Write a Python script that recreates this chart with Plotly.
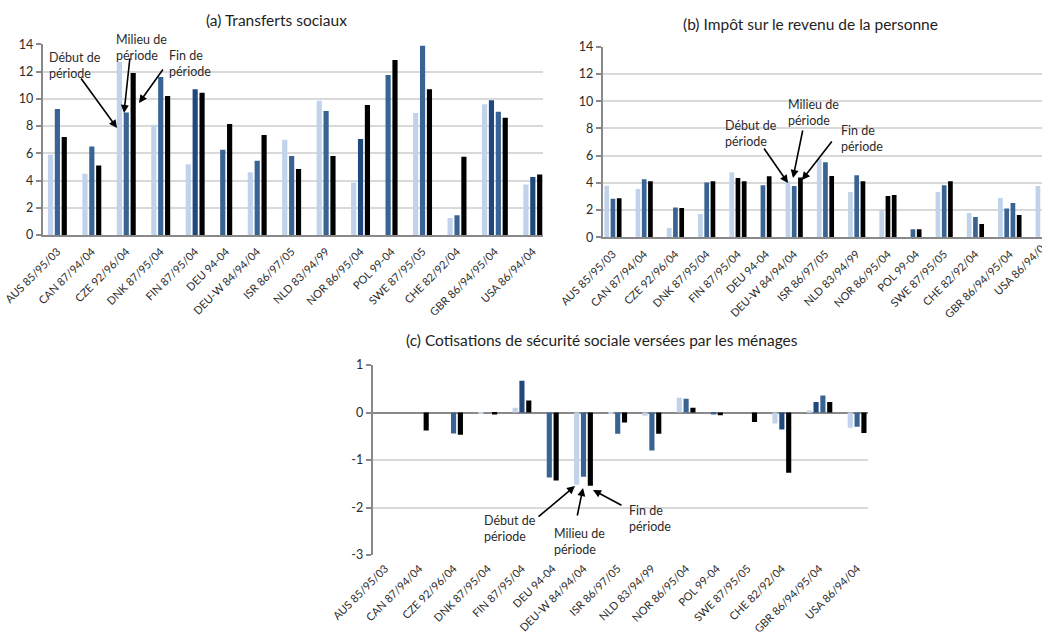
import plotly.graph_objects as go

# Pays et périodes (début / milieu / fin)
pays = ["AUS 85/95/03", "CAN 87/94/04", "CZE 92/96/04", "DNK 87/95/04", "FIN 87/95/04",
        "DEU 94-04", "DEU-W 84/94/04", "ISR 86/97/05", "NLD 83/94/99", "NOR 86/95/04",
        "POL 99-04", "SWE 87/95/05", "CHE 82/92/04", "GBR 86/94/95/04", "USA 86/94/04"]

# (a) Transferts sociaux
transf_debut = [5.9, 4.5, 12.7, 8.1, 5.2, None, 4.6, 7.0, 9.85, 3.85, None, 8.95, 1.25, 9.6, 3.7]
transf_milieu = [9.25, 6.5, 9.0, 11.6, 10.7, 6.25, 5.45, 5.8, 9.1, 7.05, 11.75, 13.9, 1.45, 9.9, 4.25]
transf_milieu2 = [None] * 13 + [9.05, None]
transf_fin = [7.2, 5.1, 11.9, 10.2, 10.45, 8.15, 7.35, 4.85, 5.8, 9.55, 12.85, 10.7, 5.75, 8.6, 4.45]

# (b) Impôt sur le revenu de la personne
impot_debut = [3.78, 3.55, 0.68, 1.72, 4.78, None, 4.12, 5.75, 3.33, 2.0, None, 3.33, 1.78, 2.88, 3.77]
impot_milieu = [2.83, 4.27, 2.18, 4.03, 4.35, 3.83, 3.77, 5.52, 4.55, 3.03, 0.6, 3.83, 1.5, 2.12, None]
impot_milieu2 = [None] * 13 + [2.52, None]
impot_fin = [2.87, 4.12, 2.15, 4.12, 4.12, 4.48, 4.4, 4.5, 4.12, 3.1, 0.6, 4.12, 0.98, 1.63, None]

# (c) Cotisations de sécurité sociale versées par les ménages
cotis_debut = [0, 0, 0, -0.03, 0.1, None, -1.52, -0.03, -0.07, 0.31, None, 0, -0.23, 0.04, -0.32]
cotis_milieu = [0, 0, -0.44, 0, 0.67, -1.37, -1.35, -0.45, -0.8, 0.29, -0.04, 0, -0.36, 0.22, -0.3]
cotis_milieu2 = [None] * 13 + [0.36, None]
cotis_fin = [0, -0.38, -0.47, -0.04, 0.25, -1.43, -1.54, -0.21, -0.45, 0.1, -0.06, -0.2, -1.27, 0.22, -0.43]

CLAIR = "#c0d3ea"
MOYEN = "#386393"
FONCE = "#1f497d"
NOIR = "#000000"

couleurs_milieu_a = [MOYEN, MOYEN, MOYEN, MOYEN, FONCE, MOYEN, MOYEN, MOYEN, MOYEN, FONCE,
                     MOYEN, MOYEN, MOYEN, FONCE, FONCE]
couleurs_milieu_b = [MOYEN, MOYEN, MOYEN, MOYEN, NOIR, MOYEN, MOYEN, MOYEN, MOYEN, NOIR,
                     MOYEN, MOYEN, MOYEN, MOYEN, MOYEN]
couleurs_milieu_c = [MOYEN, MOYEN, MOYEN, MOYEN, FONCE, MOYEN, MOYEN, MOYEN, MOYEN, MOYEN,
                     MOYEN, MOYEN, FONCE, FONCE, MOYEN]

W, H = 1042, 636
FONT = "Lato"
TXT = "#2b2b2b"


def px(x):
    return x / W


def py(y):
    return 1 - y / H


def emplacements():
    """One bar slot per period year, two empty slots between countries."""
    slots = {"debut": [], "milieu": [], "milieu2": [], "fin": []}
    centres = []
    pos = 0
    for lab in pays:
        n = len(lab.split(" ")[1].replace("-", "/").split("/"))
        order = []
        if n >= 3:
            order.append("debut")
        order.append("milieu")
        if n == 4:
            order.append("milieu2")
        order.append("fin")
        for k in slots:
            slots[k].append(None)
        for j, k in enumerate(order):
            slots[k][-1] = pos + j
        centres.append(pos + (n - 1) / 2)
        pos += n + 2
    return slots, centres


slots, centres = emplacements()

fig = go.Figure()


def ajoute(series, couleurs, xa, ya):
    for key, vals, cols in zip(["debut", "milieu", "milieu2", "fin"], series, couleurs):
        xs, ys, cs = [], [], []
        for i, v in enumerate(vals):
            if v is None or slots[key][i] is None:
                continue
            xs.append(slots[key][i])
            ys.append(v)
            cs.append(cols[i] if isinstance(cols, list) else cols)
        fig.add_trace(go.Bar(x=xs, y=ys, width=0.75, marker=dict(color=cs, line=dict(width=0)),
                             xaxis=xa, yaxis=ya, showlegend=False))


ajoute([transf_debut, transf_milieu, transf_milieu2, transf_fin],
       [CLAIR, couleurs_milieu_a, MOYEN, NOIR], "x", "y")
ajoute([impot_debut, impot_milieu, impot_milieu2, impot_fin],
       [CLAIR, couleurs_milieu_b, MOYEN, NOIR], "x2", "y2")
ajoute([cotis_debut, cotis_milieu, cotis_milieu2, cotis_fin],
       [CLAIR, couleurs_milieu_c, MOYEN, NOIR], "x3", "y3")

AXE = "#898989"
GRILLE = "#d9d9d9"

xcommon = dict(tickmode="array", tickangle=-45, showgrid=False, ticks="", automargin=False,
               ticklabelstandoff=4,
               tickfont=dict(family=FONT, size=11, color=TXT), zeroline=False, fixedrange=True)
ycommon = dict(showgrid=True, gridcolor=GRILLE, gridwidth=2, showline=True, linecolor=AXE,
               linewidth=2, ticks="outside", ticklen=5, tickcolor=AXE, tickwidth=1.5, automargin=False,
               tickfont=dict(family=FONT, size=12.5, color=TXT), fixedrange=True)

fig.update_layout(
    template="none",
    width=W, height=H, margin=dict(l=0, r=0, t=0, b=0, pad=0, autoexpand=False),
    paper_bgcolor="white", plot_bgcolor="white", barmode="overlay", showlegend=False,
    font=dict(family=FONT, color=TXT),
    xaxis=dict(domain=[px(42.7), px(543)], range=[-1.13, 71.48], anchor="y",
               tickvals=centres, ticktext=pays, showline=True, linecolor=AXE, linewidth=2, **xcommon),
    yaxis=dict(domain=[py(235), py(44.3)], range=[0, 14], anchor="x", zeroline=False,
               tickvals=list(range(0, 15, 2)), ticktext=[str(v) for v in range(0, 15, 2)], **ycommon),
    xaxis2=dict(domain=[px(602.7), 1.0], range=[-0.64, 69.65], anchor="y2",
                tickvals=centres[:-1], ticktext=pays[:-1], showline=True, linecolor=AXE, linewidth=2,
                **xcommon),
    yaxis2=dict(domain=[py(237.3), py(46.7)], range=[0, 14], anchor="x2", zeroline=False,
                tickvals=list(range(0, 15, 2)), ticktext=[str(v) for v in range(0, 15, 2)], **ycommon),
    xaxis3=dict(domain=[px(372.7), px(867.7)], range=[-0.82, 71.55], anchor="y3",
                tickvals=centres, ticktext=pays, showline=False, **xcommon),
    yaxis3=dict(domain=[py(555), py(365)], range=[-3, 1], anchor="x3",
                zeroline=True, zerolinecolor=AXE, zerolinewidth=2,
                tickvals=[1, 0, -1, -2, -3], ticktext=["1", "0", "-1", "-2", "-3"], **ycommon),
)

annots = []

# Titres des panneaux
for txt, x, y in [("(a) Transferts sociaux", 276, 20.5),
                  ("(b) Impôt sur le revenu de la personne", 810, 23.5),
                  ("(c) Cotisations de sécurité sociale versées par les ménages", 602, 340)]:
    annots.append(dict(text=txt, x=px(x), y=py(y), xref="paper", yref="paper",
                       xanchor="center", yanchor="middle", showarrow=False,
                       font=dict(family=FONT, size=15.5, color="#1e1e1e")))

# Étiquette du dernier pays du panneau (b), coupée au bord
annots.append(dict(text=pays[-1], x=px(1021), y=py(267), xref="paper", yref="paper",
                   xanchor="center", yanchor="middle", textangle=-45, showarrow=False,
                   font=dict(family=FONT, size=11, color=TXT)))

# Libellés et flèches
libelles = [
    ("Début de<br>période", 47, 48), ("Milieu de<br>période", 114, 30), ("Fin de<br>période", 167, 46),
    ("Début de<br>période", 723, 116), ("Milieu de<br>période", 786, 95), ("Fin de<br>période", 839, 121),
    ("Début de<br>période", 482, 511), ("Milieu de<br>période", 552, 524), ("Fin de<br>période", 627, 501),
]
for txt, x, y in libelles:
    annots.append(dict(text=txt, x=px(x), y=py(y), xref="paper", yref="paper",
                       xanchor="left", yanchor="top", align="left", showarrow=False,
                       font=dict(family=FONT, size=12.5, color=TXT)))

fleches = [
    ((80, 77), (117, 128)), ((130, 57), (124, 113)), ((164, 68), (139, 103)),
    ((763, 147), (788, 183)), ((803, 129), (793, 178)), ((833, 140), (802, 180)),
    ((537, 518), (575, 486)), ((577, 517), (583, 488)), ((623, 506), (593, 490)),
]
for (tx, ty), (hx, hy) in fleches:
    annots.append(dict(text="", x=px(hx), y=py(hy), xref="paper", yref="paper",
                       ax=tx - hx, ay=ty - hy, axref="pixel", ayref="pixel",
                       showarrow=True, arrowhead=2, arrowsize=1, arrowwidth=1.6,
                       arrowcolor="#000000", standoff=0, startstandoff=0))

fig.update_layout(annotations=annots)

fig.write_html("out.html")
